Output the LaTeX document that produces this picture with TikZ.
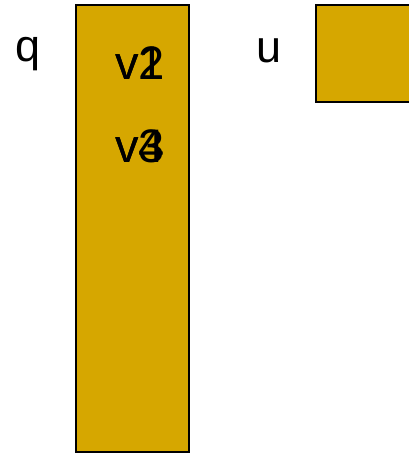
\documentclass[tikz,border=0pt]{standalone}
\usepackage{fontspec}
\setmainfont{Liberation Sans}
\definecolor{gold}{RGB}{214,167,0}
\begin{document}
\begin{tikzpicture}[x=1pt,y=-1pt,
  box/.style={draw=black,fill=gold,line width=2pt},
  lbl/.style={anchor=base west,inner sep=0pt,font=\fontsize{45}{45}\selectfont},
  val/.style={anchor=base west,inner sep=0pt,font=\fontsize{47}{47}\selectfont}]
\useasboundingbox (0,0) rectangle (408,454);
\draw[box] (76,5) rectangle (189,452);
\draw[box] (316,5) rectangle (412,102);
\node[lbl] (q) at (15,62) {q};
\node[lbl] (u) at (256,63) {u};
\node[val] (v1) at (115,80) {v1};
\node[val] (v2) at (115,80) {v2};
\node[val] (v3) at (115,163) {v3};
\node[val] (v4) at (115,163) {v4};
\end{tikzpicture}
\end{document}
